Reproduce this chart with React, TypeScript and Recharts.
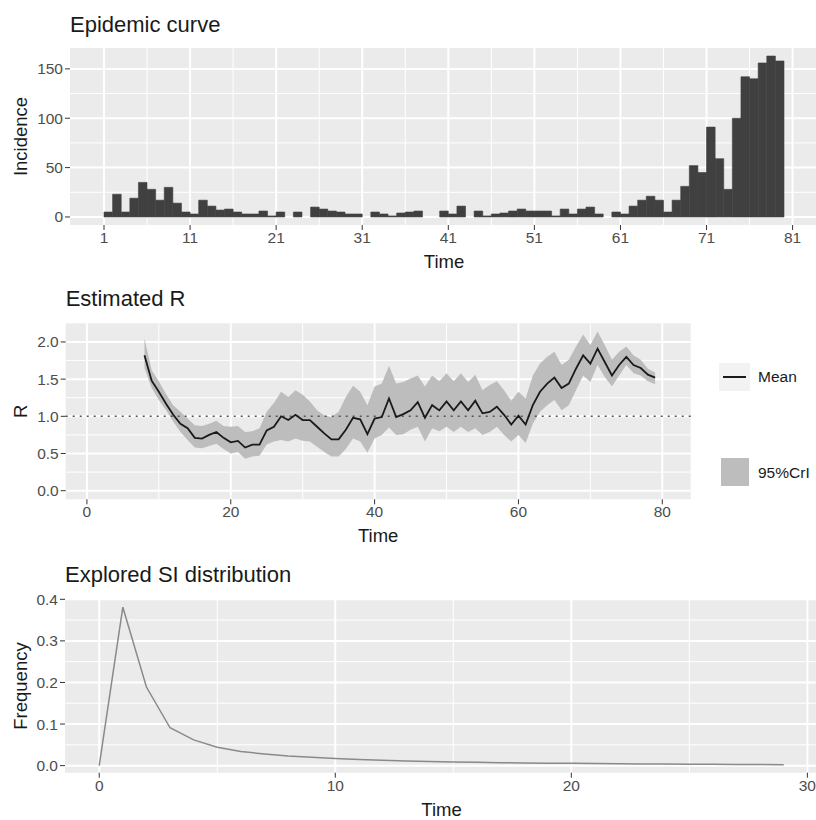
import React from "react";
import {
  Area,
  Bar,
  CartesianGrid,
  ComposedChart,
  Line,
  ReferenceLine,
  XAxis,
  YAxis,
} from "recharts";

// Daily incidence, day 1 .. 79
const firstDay = 1;
const incidence = [
  5, 23, 5, 19, 35, 28, 17, 30, 14, 5,
  3, 17, 11, 7, 8, 5, 3, 3, 6, 1,
  5, 0, 5, 0, 10, 8, 6, 5, 3, 3,
  0, 5, 3, 1, 4, 5, 6, 0, 0, 6,
  3, 11, 0, 6, 1, 3, 4, 6, 8, 6,
  6, 6, 1, 8, 3, 8, 10, 3, 0, 5,
  3, 11, 17, 21, 17, 5, 17, 31, 52, 45,
  91, 59, 28, 100, 142, 140, 156, 163, 158,
];
const dayTicks = [1, 11, 21, 31, 41, 51, 61, 71, 81];
const dayMinor = [6, 16, 26, 36, 46, 56, 66, 76];
const incTicks = [0, 50, 100, 150];
const incMinor = [25, 75, 125];

// Estimated R, windows ending at t = 8 .. 79
const rStart = 8;
const rMean = [
  1.82, 1.48, 1.33, 1.17, 1.02, 0.9, 0.84, 0.71, 0.7, 0.75,
  0.79, 0.71, 0.65, 0.67, 0.58, 0.62, 0.62, 0.81, 0.86, 1.0,
  0.95, 1.02, 0.95, 0.95, 0.86, 0.77, 0.69, 0.69, 0.82, 0.98,
  0.96, 0.76, 0.97, 0.99, 1.24, 0.99, 1.03, 1.08, 1.19, 0.98,
  1.15, 1.08, 1.2, 1.08, 1.2, 1.08, 1.21, 1.04, 1.06, 1.13,
  1.02, 0.89, 1.01, 0.89, 1.15, 1.33, 1.44, 1.52, 1.38, 1.44,
  1.64, 1.82, 1.71, 1.91, 1.73, 1.55, 1.69, 1.8, 1.69, 1.65,
  1.56, 1.52,
];
const rLow = [
  1.65, 1.38, 1.22, 1.08, 0.93, 0.79, 0.68, 0.58, 0.57, 0.6,
  0.63, 0.56, 0.5, 0.52, 0.43, 0.46, 0.47, 0.62, 0.66, 0.68,
  0.66, 0.7, 0.67, 0.66, 0.59, 0.52, 0.46, 0.46, 0.56, 0.7,
  0.66, 0.51, 0.7, 0.75, 0.85, 0.75, 0.76, 0.82, 0.86, 0.66,
  0.84, 0.8, 0.86, 0.79, 0.86, 0.79, 0.84, 0.75, 0.79, 0.86,
  0.75, 0.66, 0.75, 0.64, 0.9, 1.06, 1.15, 1.22, 1.08, 1.15,
  1.35, 1.55, 1.46, 1.69, 1.53, 1.4, 1.55, 1.69, 1.58, 1.55,
  1.47, 1.43,
];
const rHigh = [
  2.05, 1.62, 1.47, 1.3, 1.15, 1.06, 0.97, 0.88, 0.87, 0.9,
  0.94, 0.87, 0.86, 0.87, 0.79, 0.8, 0.84, 1.06, 1.18, 1.33,
  1.26, 1.35, 1.29, 1.2, 1.08, 1.01, 0.99, 1.06, 1.26, 1.41,
  1.33, 1.15, 1.4, 1.44, 1.68, 1.44, 1.46, 1.51, 1.55, 1.4,
  1.55, 1.47, 1.58, 1.47, 1.58, 1.46, 1.56, 1.35, 1.42, 1.47,
  1.35, 1.21, 1.33, 1.24, 1.55, 1.71, 1.8, 1.87, 1.69, 1.76,
  1.94, 2.1, 1.96, 2.14, 1.96, 1.76, 1.87, 1.94, 1.82, 1.76,
  1.64, 1.59,
];
const rTimeTicks = [0, 20, 40, 60, 80];
const rTimeMinor = [10, 30, 50, 70];
const rTicks = [0, 0.5, 1, 1.5, 2];
const rMinor = [0.25, 0.75, 1.25, 1.75];

// Serial interval distribution, t = 0 .. 29
const siFreq = [
  0, 0.381, 0.189, 0.091, 0.062, 0.044, 0.034, 0.028, 0.023, 0.02,
  0.017, 0.015, 0.013, 0.011, 0.01, 0.009, 0.008, 0.007, 0.0065, 0.006,
  0.0055, 0.005, 0.0045, 0.004, 0.0037, 0.0034, 0.0031, 0.0028, 0.0025, 0.0023,
];
const siTimeTicks = [0, 10, 20, 30];
const siTimeMinor = [5, 15, 25];
const siTicks = [0, 0.1, 0.2, 0.3, 0.4];
const siMinor = [0.05, 0.15, 0.25, 0.35];

const incRows = incidence.map((v, i) => ({ x: firstDay + i + 0.5, v }));
const rRows = rMean.map((m, i) => ({ t: rStart + i, mean: m, band: [rLow[i], rHigh[i]] }));
const siRows = siFreq.map((f, i) => ({ t: i, f }));

const BG = "#EBEBEB";
const tickStyle = { fontSize: 15.5, fill: "#4d4d4d" };
const tickLine = { stroke: "#333" };
const axisTitle = { fontSize: 18.5, fill: "#1a1a1a" };
const fmt1 = (v: number) => v.toFixed(1);

function Title({ text, left, top }: { text: string; left: number; top: number }) {
  return (
    <div
      style={{
        position: "absolute",
        left,
        top,
        fontSize: 22,
        lineHeight: "22px",
        color: "#1a1a1a",
        whiteSpace: "nowrap",
      }}
    >
      {text}
    </div>
  );
}

function Grid({ x, y, xMinor, yMinor }: any) {
  return [
    <CartesianGrid key="minor" fill={BG} stroke="#fff" strokeWidth={1} horizontalValues={yMinor} verticalValues={xMinor} />,
    <CartesianGrid key="major" stroke="#fff" strokeWidth={2} horizontalValues={y} verticalValues={x} />,
  ];
}

function yLabel(value: string) {
  return { value, angle: -90, position: "insideLeft", offset: 20, ...axisTitle, style: { textAnchor: "middle" } };
}

export default function App() {
  return (
    <div
      style={{
        position: "absolute",
        left: 0,
        top: 0,
        width: 816,
        height: 820,
        overflow: "hidden",
        background: "#fff",
        fontFamily: "'Liberation Sans', Arial, sans-serif",
      }}
    >
      <Title text="Epidemic curve" left={70} top={13.7} />
      <div style={{ position: "absolute", left: 0, top: 0 }}>
        <ComposedChart width={818} height={276} data={incRows} margin={{ top: 48, right: 0, bottom: 6, left: 0 }}>
          {Grid({ x: dayTicks, y: incTicks, xMinor: dayMinor, yMinor: incMinor })}
          <XAxis
            type="number"
            dataKey="x"
            domain={[-2.95, 83.95]}
            ticks={dayTicks}
            interval={0}
            allowDataOverflow
            axisLine={false}
            tickLine={tickLine}
            tickSize={5}
            tick={tickStyle}
            height={45}
            label={{ value: "Time", position: "insideBottom", offset: 2, ...axisTitle }}
          />
          <YAxis
            type="number"
            domain={[-8.15, 171.15]}
            ticks={incTicks}
            interval={0}
            allowDataOverflow
            axisLine={false}
            tickLine={tickLine}
            tickSize={5}
            tick={tickStyle}
            width={70}
            label={yLabel("Incidence")}
          />
          <Bar dataKey="v" fill="#404040" stroke="#404040" strokeWidth={0.6} barSize={8.6} isAnimationActive={false} />
        </ComposedChart>
      </div>

      <Title text="Estimated R" left={65.7} top={288.1} />
      <div style={{ position: "absolute", left: 0, top: 280 }}>
        <ComposedChart width={816} height={270.3} data={rRows} margin={{ top: 43.3, right: 125.3, bottom: 6, left: 0 }}>
          {Grid({ x: rTimeTicks, y: rTicks, xMinor: rTimeMinor, yMinor: rMinor })}
          <XAxis
            type="number"
            dataKey="t"
            domain={[-2.95, 83.95]}
            ticks={rTimeTicks}
            interval={0}
            allowDataOverflow
            axisLine={false}
            tickLine={tickLine}
            tickSize={5}
            tick={tickStyle}
            height={45}
            label={{ value: "Time", position: "insideBottom", offset: 2.6, ...axisTitle }}
          />
          <YAxis
            type="number"
            domain={[-0.116, 2.251]}
            ticks={rTicks}
            interval={0}
            allowDataOverflow
            axisLine={false}
            tickLine={tickLine}
            tickSize={5}
            tick={tickStyle}
            tickFormatter={fmt1}
            width={65.7}
            label={yLabel("R")}
          />
          <Area dataKey="band" type="linear" stroke="none" fill="#BDBDBD" fillOpacity={1} isAnimationActive={false} />
          <ReferenceLine y={1} stroke="#555" strokeWidth={1.6} strokeDasharray="2 5" />
          <Line dataKey="mean" type="linear" stroke="#1a1a1a" strokeWidth={1.8} dot={false} isAnimationActive={false} />
        </ComposedChart>
      </div>

      {/* legend */}
      <div style={{ position: "absolute", left: 719, top: 363, width: 31, height: 28, background: "#F2F2F2" }}>
        <div style={{ position: "absolute", left: 4, top: 13, width: 23, height: 2, background: "#1a1a1a" }} />
      </div>
      <div style={{ position: "absolute", left: 758, top: 369, fontSize: 15.5, lineHeight: "16px", color: "#1a1a1a" }}>Mean</div>
      <div style={{ position: "absolute", left: 720.5, top: 458, width: 28, height: 28, background: "#BDBDBD" }} />
      <div style={{ position: "absolute", left: 758, top: 464.7, fontSize: 15.5, lineHeight: "16px", color: "#1a1a1a" }}>95%CrI</div>

      <Title text="Explored SI distribution" left={65} top={563.7} />
      <div style={{ position: "absolute", left: 0, top: 560 }}>
        <ComposedChart width={818} height={260} data={siRows} margin={{ top: 39.3, right: 0, bottom: 4, left: 0 }}>
          {Grid({ x: siTimeTicks, y: siTicks, xMinor: siTimeMinor, yMinor: siMinor })}
          <XAxis
            type="number"
            dataKey="t"
            domain={[-1.45, 30.45]}
            ticks={siTimeTicks}
            interval={0}
            allowDataOverflow
            axisLine={false}
            tickLine={tickLine}
            tickSize={5}
            tick={tickStyle}
            height={43.3}
            label={{ value: "Time", position: "insideBottom", offset: 0, ...axisTitle }}
          />
          <YAxis
            type="number"
            domain={[-0.017, 0.4]}
            ticks={siTicks}
            interval={0}
            allowDataOverflow
            axisLine={false}
            tickLine={tickLine}
            tickSize={5}
            tick={tickStyle}
            tickFormatter={fmt1}
            width={65}
            label={yLabel("Frequency")}
          />
          <Line dataKey="f" type="linear" stroke="#8a8a8a" strokeWidth={1.5} dot={false} isAnimationActive={false} />
        </ComposedChart>
      </div>
    </div>
  );
}
